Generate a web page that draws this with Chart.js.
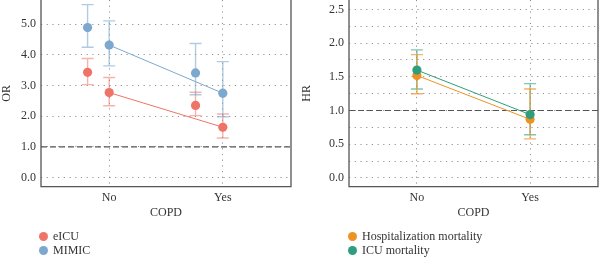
<!DOCTYPE html>
<html>
<head>
<meta charset="utf-8">
<script src="https://cdn.jsdelivr.net/npm/chart.js@4/dist/chart.umd.min.js"></script>
<style>
  html, body { margin:0; padding:0; background:#fff; }
  #wrap { position:relative; width:600px; height:259px; overflow:hidden; font-family:"Liberation Serif","DejaVu Serif",serif; color:#333; }
  .cv { position:absolute; top:0; width:300px; height:259px; }
  .leg { position:absolute; font-size:12px; line-height:14px; color:#333; }
  .leg .it { position:relative; height:14px; white-space:nowrap; }
  .leg .dot { position:absolute; left:-14px; top:2.5px; width:9px; height:9px; border-radius:50%; }
</style>
</head>
<body>
<div id="wrap">
  <div class="cv" style="left:0"><canvas id="c1" width="300" height="259"></canvas></div>
  <div class="cv" style="left:300px"><canvas id="c2" width="300" height="259"></canvas></div>
  <div id="leg1" class="leg" style="left:53px; top:229px;"></div>
  <div id="leg2" class="leg" style="left:362px; top:229px;"></div>
</div>
<script>
// ---------- data ----------
const categories = ['No', 'Yes'];
const xMain = [1, 2];          // category positions
const xShift = [0.81, 1.76];   // dodged positions of the unconnected estimates

// Left panel (OR)
const eicuMain = [2.77, 1.64];
const eicuMainLow = [2.34, 1.29];
const eicuMainHigh = [3.26, 2.07];
const eicuAlt = [3.43, 2.35];
const eicuAltLow = [3.03, 2.02];
const eicuAltHigh = [3.88, 2.78];
const mimicMain = [4.32, 2.75];
const mimicMainLow = [3.64, 1.98];
const mimicMainHigh = [5.11, 3.78];
const mimicAlt = [4.89, 3.41];
const mimicAltLow = [4.25, 2.70];
const mimicAltHigh = [5.64, 4.37];
const orTicks = [0, 0.5, 1, 1.5, 2, 2.5, 3, 3.5, 4, 4.5, 5, 5.5];

// Right panel (HR)
const hospHR = [1.52, 0.87];
const hospLow = [1.25, 0.58];
const hospHigh = [1.83, 1.32];
const icuHR = [1.60, 0.94];
const icuLow = [1.32, 0.64];
const icuHigh = [1.90, 1.40];
const hrTicks = [0, 0.25, 0.5, 0.75, 1, 1.25, 1.5, 1.75, 2, 2.25, 2.5];

// ---------- styles ----------
const C_EICU = '#EF7468', C_EICU_E = 'rgba(239,116,104,0.55)';
const C_MIMIC = '#7CA8CF', C_MIMIC_E = 'rgba(124,168,207,0.6)';
const C_HOSP = '#EE9224', C_HOSP_E = 'rgba(238,146,36,0.7)';
const C_ICU = '#2E9E7E', C_ICU_E = 'rgba(46,158,126,0.6)';
const FONT = { family: '"Liberation Serif","DejaVu Serif",serif', size: 12 };

function pts(xs, ys) { return xs.map((x, i) => ({ x: x, y: ys[i] })); }

function ds(label, xs, ys, lo, hi, color, ecolor, line) {
  return {
    label: label, data: pts(xs, ys), errLow: lo, errHigh: hi, errColor: ecolor,
    showLine: line, borderColor: color, backgroundColor: color,
    borderWidth: 1, pointRadius: 4.6, pointHoverRadius: 4.6,
    pointBorderWidth: 0, pointBackgroundColor: color
  };
}

const errPlugin = {
  id: 'errbars',
  beforeDatasetsDraw(chart) {
    const ctx = chart.ctx, xs = chart.scales.x, ys = chart.scales.y, ca = chart.chartArea;
    ctx.save();
    ctx.strokeStyle = '#555'; ctx.lineWidth = 1.3; ctx.setLineDash([]);
    ctx.beginPath();
    ctx.moveTo(ca.left, 0); ctx.lineTo(ca.left, ca.bottom);
    ctx.lineTo(ca.right, ca.bottom); ctx.lineTo(ca.right, 0);
    ctx.stroke();
    const y1 = ys.getPixelForValue(1);
    ctx.strokeStyle = '#555'; ctx.lineWidth = 1.1; ctx.setLineDash([6, 3]);
    ctx.beginPath(); ctx.moveTo(ca.left, y1); ctx.lineTo(ca.right, y1); ctx.stroke();
    ctx.setLineDash([]);
    chart.data.datasets.forEach(d => {
      ctx.strokeStyle = d.errColor; ctx.lineWidth = 1.4;
      d.data.forEach((p, i) => {
        const px = xs.getPixelForValue(p.x);
        const yl = ys.getPixelForValue(d.errLow[i]);
        const yh = ys.getPixelForValue(d.errHigh[i]);
        ctx.beginPath();
        ctx.moveTo(px, yl); ctx.lineTo(px, yh);
        ctx.moveTo(px - 6, yl); ctx.lineTo(px + 6, yl);
        ctx.moveTo(px - 6, yh); ctx.lineTo(px + 6, yh);
        ctx.stroke();
      });
    });
    ctx.restore();
  }
};

function makeChart(id, datasets, yMin, yMax, tickVals, yTitle, yWidth, padRight, major) {
  return new Chart(document.getElementById(id), {
    type: 'scatter',
    data: { datasets: datasets },
    plugins: [errPlugin],
    options: {
      responsive: false, animation: false, clip: false,
      layout: { autoPadding: false, padding: { top: 0, right: padRight, bottom: 39, left: 0 } },
      plugins: { legend: { display: false }, tooltip: { enabled: false } },
      scales: {
        x: {
          type: 'linear', min: 0.4, max: 2.6,
          afterBuildTicks: s => { s.ticks = xMain.map(v => ({ value: v })); },
          afterFit: s => { s.paddingLeft = 0; s.paddingRight = 0; },
          ticks: { callback: v => categories[xMain.indexOf(v)], font: FONT, color: '#333', padding: 3.5, maxRotation: 0 },
          grid: { color: 'rgba(110,110,110,0.75)', lineWidth: 1, drawTicks: false },
          border: { display: false, dash: [1.2, 4.5] },
          title: { display: true, text: 'COPD', font: FONT, color: '#333', padding: { top: -2.5, bottom: 0 } }
        },
        y: {
          type: 'linear', min: yMin, max: yMax,
          afterBuildTicks: s => { s.ticks = tickVals.map(v => ({ value: v })); },
          afterFit: s => { s.width = yWidth; s.paddingTop = 0; s.paddingBottom = 0; },
          ticks: { callback: v => (Math.abs(v / major - Math.round(v / major)) < 1e-9) ? v.toFixed(1) : '',
                   font: FONT, color: '#333', padding: 5 },
          grid: { color: 'rgba(110,110,110,0.75)', lineWidth: 1, drawTicks: false },
          border: { display: false, dash: [1.2, 4.5] },
          title: { display: true, text: yTitle, font: FONT, color: '#333', padding: { top: 0, bottom: 3 } }
        }
      }
    }
  });
}

makeChart('c1', [
  ds('eICU', xShift, eicuAlt, eicuAltLow, eicuAltHigh, C_EICU, C_EICU_E, false),
  ds('eICU', xMain, eicuMain, eicuMainLow, eicuMainHigh, C_EICU, C_EICU_E, true),
  ds('MIMIC', xShift, mimicAlt, mimicAltLow, mimicAltHigh, C_MIMIC, C_MIMIC_E, false),
  ds('MIMIC', xMain, mimicMain, mimicMainLow, mimicMainHigh, C_MIMIC, C_MIMIC_E, true)
], -0.3, 5.79, orTicks, 'OR', 41, 9, 1);

makeChart('c2', [
  ds('ICU mortality', xMain, icuHR, icuLow, icuHigh, C_ICU, C_ICU_E, true),
  ds('Hospitalization mortality', xMain, hospHR, hospLow, hospHigh, C_HOSP, C_HOSP_E, true)
], -0.13, 2.64, hrTicks, 'HR', 49, 2, 0.5);

function legend(id, items) {
  const el = document.getElementById(id);
  items.forEach(([t, c]) => {
    const d = document.createElement('div'); d.className = 'it';
    const s = document.createElement('span'); s.className = 'dot'; s.style.background = c;
    d.appendChild(s); d.appendChild(document.createTextNode(t)); el.appendChild(d);
  });
}
legend('leg1', [['eICU', C_EICU], ['MIMIC', C_MIMIC]]);
legend('leg2', [['Hospitalization mortality', C_HOSP], ['ICU mortality', C_ICU]]);
</script>
</body>
</html>
